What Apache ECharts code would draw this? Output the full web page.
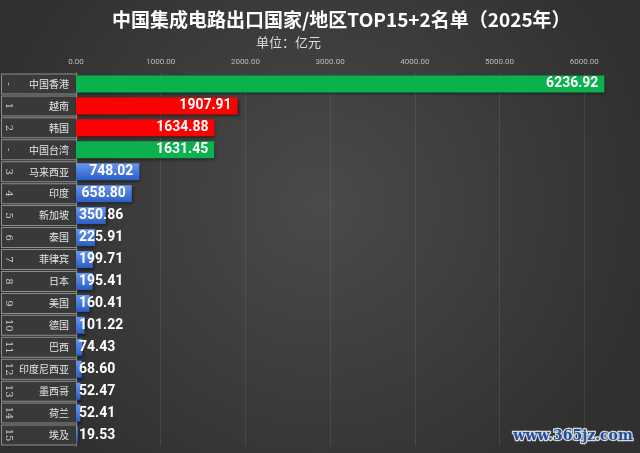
<!DOCTYPE html>
<html>
<head>
<meta charset="utf-8">
<script src="https://cdn.jsdelivr.net/npm/echarts@6/dist/echarts.min.js"></script>
<style>
  html, body { margin: 0; padding: 0; }
  #main { width: 640px; height: 453px; }
</style>
</head>
<body>
<div id="main"></div>
<script>
var regions = ['中国香港', '越南', '韩国', '中国台湾', '马来西亚', '印度', '新加坡', '泰国',
    '菲律宾', '日本', '美国', '德国', '巴西', '印度尼西亚', '墨西哥', '荷兰', '埃及'];
var ranks = ['-', '1', '2', '-', '3', '4', '5', '6', '7', '8', '9', '10', '11', '12', '13', '14', '15'];
var exports2025 = [6236.92, 1907.91, 1634.88, 1631.45, 748.02, 658.80, 350.86, 225.91,
    199.71, 195.41, 160.41, 101.22, 74.43, 68.60, 52.47, 52.41, 19.53];
var xTicks = [0, 1000, 2000, 3000, 4000, 5000, 6000];

var chart = echarts.init(document.getElementById('main'));

var blue = new echarts.graphic.LinearGradient(0, 0, 0, 1, [
    { offset: 0, color: '#6797f0' },
    { offset: 1, color: '#2c5dc2' }
]);

function barColor(i) {
    if (ranks[i] === '-') return '#0bb04f';
    if (+ranks[i] <= 2) return '#ff0000';
    return blue;
}

// small bars: label starts at the bar's left edge
var barData = exports2025.map(function (v, i) {
    return {
        value: v,
        itemStyle: { color: barColor(i) },
        label: v < 600 ? { position: 'insideLeft', distance: 3 } : { position: 'insideRight', distance: 6 }
    };
});

var option = {
    backgroundColor: {
        type: 'radial', x: 0.5, y: 0.45, r: 0.75,
        colorStops: [{ offset: 0, color: '#4a4a4a' }, { offset: 1, color: '#303030' }]
    },
    title: [{
        text: '中国集成电路出口国家/地区TOP15+2名单（2025年）',
        left: 112, top: 10, padding: 0,
        textStyle: { color: '#ffffff', fontSize: 19, fontWeight: 'bold', fontFamily: 'Noto Sans CJK SC' }
    }, {
        text: '单位：亿元',
        left: 256, top: 36, padding: 0,
        textStyle: { color: '#dddddd', fontSize: 13, fontWeight: 'normal', fontFamily: 'Noto Sans CJK SC' }
    }],
    graphic: [{
        type: 'text', right: 6, bottom: 8,
        style: {
            text: 'www.365jz.com', fill: '#1d4f9c', stroke: '#d8d8d8', lineWidth: 2.5,
            font: 'bold 14px "DejaVu Serif"'
        }
    }],
    grid: { left: 76, top: 73, width: 593, bottom: 7, outerBoundsMode: 'none', containLabel: false },
    xAxis: {
        type: 'value', position: 'top', min: xTicks[0], max: 7000, interval: xTicks[1] - xTicks[0],
        axisLine: { show: false }, axisTick: { show: false },
        axisLabel: {
            color: '#bdbdbd', fontSize: 8, margin: 7, fontFamily: 'Roboto',
            formatter: function (v) { return v.toFixed(2); }
        },
        splitLine: { lineStyle: { color: 'rgba(255,255,255,0.09)', width: 1 } }
    },
    yAxis: [{
        type: 'category', data: regions, inverse: true,
        axisLine: { show: true, lineStyle: { color: '#8c8c8c' } }, axisTick: { show: false },
        axisLabel: {
            margin: 0, align: 'right', width: 60, height: 19, lineHeight: 19,
            padding: [0, 7, 0, 7],
            color: '#e6e6e6', fontSize: 10, fontFamily: 'Noto Sans CJK SC',
            backgroundColor: '#393939', borderColor: '#8e8e8e', borderWidth: 1
        }
    }, {
        type: 'category', data: ranks, inverse: true, position: 'left', z: 5,
        axisLine: { show: false }, axisTick: { show: false },
        axisLabel: {
            margin: 67, rotate: -90, align: 'center', verticalAlign: 'middle',
            color: '#cfcfcf', fontSize: 10, fontFamily: 'DejaVu Serif'
        }
    }],
    series: [{
        type: 'bar', data: barData, barWidth: 17,
        itemStyle: { shadowColor: 'rgba(0,0,0,0.55)', shadowBlur: 3, shadowOffsetX: 1, shadowOffsetY: 2 },
        label: {
            show: true, color: '#ffffff', fontSize: 14, fontWeight: 'bold',
            fontFamily: 'Roboto',
            formatter: function (p) { return p.value.toFixed(2); }
        }
    }]
};
chart.setOption(option);
</script>
</body>
</html>
